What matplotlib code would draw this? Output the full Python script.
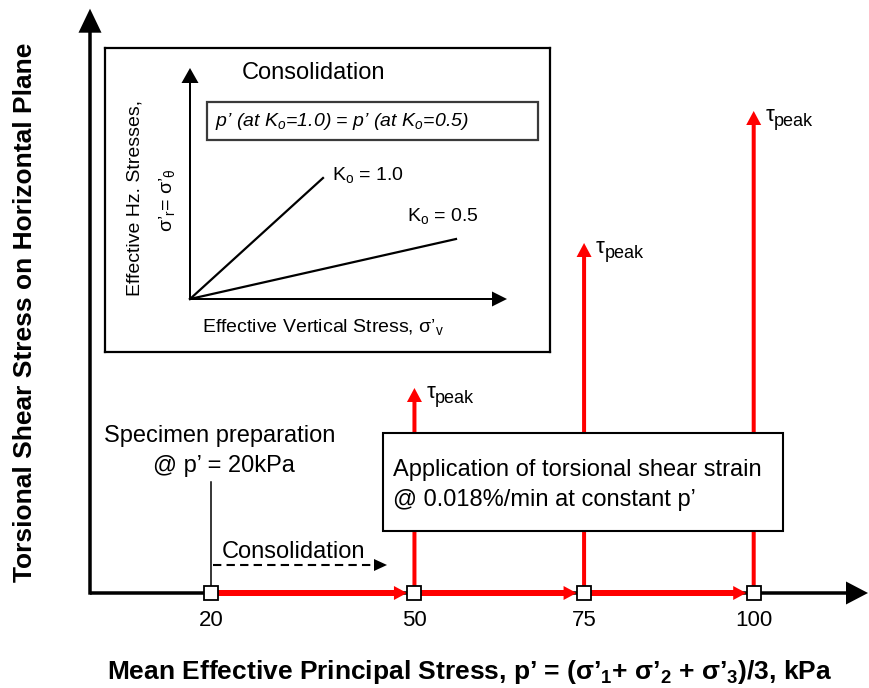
import matplotlib
matplotlib.use('Agg')
import matplotlib.pyplot as plt
from matplotlib.patches import Rectangle

plt.rcParams['font.family'] = ['Liberation Sans', 'DejaVu Sans']
plt.rcParams['mathtext.fontset'] = 'custom'
plt.rcParams['mathtext.rm'] = 'Liberation Sans'
plt.rcParams['mathtext.it'] = 'Liberation Sans:italic'
plt.rcParams['mathtext.bf'] = 'Liberation Sans:bold'
plt.rcParams['mathtext.default'] = 'regular'

# stress path data
stress_stops = [20, 50, 75, 100]          # p' at each stage (kPa)
stop_labels = ['20', '50', '75', '100']
shear_stops = [50, 75, 100]                # p' where torsional shear is applied
tau_peak = [2.05, 3.50, 4.82]              # relative peak shear stress
p_prep = 20                                # specimen preparation p'

# inset (consolidation) data
ko_labels = ['K$_o$ = 1.0', 'K$_o$ = 0.5']
ko_sigma_v = [1.33, 2.66]
ko_sigma_h = [1.21, 0.60]

W, H = 869, 688
fig = plt.figure(figsize=(W / 100, H / 100), dpi=100)


def fp(x, y):
    # reference pixel -> figure fraction
    return x / W, 1 - y / H


ax = fig.add_axes([0, 0, 1, 1])
kpa_px = 6.785       # pixels per kPa
x0_px = 75.2         # pixel column of p' = 0
ax.set_xlim(-x0_px / kpa_px, (W - x0_px) / kpa_px)
ax.set_ylim(-(H - 593) / 100, 593 / 100)
ax.axis('off')
px_x = 1 / kpa_px
px_y = 0.01


def kpa(xpix):
    return (xpix - x0_px) / kpa_px


# main axes with arrow heads
x_ax0 = kpa(90)
ax.arrow(x_ax0, 0, (868 - 90) * px_x, 0, width=3.5 * px_y, head_width=23 * px_y,
         head_length=22 * px_x, length_includes_head=True, fc='k', ec='none', zorder=2)
ax.arrow(x_ax0, -1.7 * px_y, 0, (594 - 8) * px_y, width=3.5 * px_x, head_width=23 * px_x,
         head_length=24 * px_y, length_includes_head=True, fc='k', ec='none', zorder=2)

# red consolidation path along the p' axis
for a, b in zip(stress_stops[:-1], stress_stops[1:]):
    ax.arrow(a, 0, b - a - 7.5 * px_x, 0, width=6 * px_y, head_width=14 * px_y,
             head_length=13 * px_x, length_includes_head=True, fc='red', ec='none', zorder=3)

# red shearing arrows
for s, t in zip(shear_stops, tau_peak):
    ax.arrow(s, 0, 0, t, width=4 * px_x, head_width=15 * px_x, head_length=14 * px_y,
             length_includes_head=True, fc='red', ec='none', zorder=3)
    tt = ax.annotate('τ', xy=(s, t), xytext=(8.5, -3.5), textcoords='offset points',
                     ha='left', va='center', fontsize=16)
    ax.annotate('peak', xy=(1.0, 0.25), xycoords=tt, ha='left', va='center', fontsize=13)

ax.plot(stress_stops, [0] * len(stress_stops), ls='none', marker='s', ms=10.5,
        mfc='white', mec='black', mew=1.3, zorder=5)
for s, lab in zip(stress_stops, stop_labels):
    ax.text(s, -28 * px_y, lab, ha='center', va='center', fontsize=16)

# specimen preparation note
ax.plot([p_prep, p_prep], [0, (593 - 482) * px_y], color='k', lw=1.1, zorder=4)
fig.text(*fp(220, 436), 'Specimen preparation', ha='center', va='center', fontsize=17)
fig.text(*fp(224, 466), '@ p’ = 20kPa', ha='center', va='center', fontsize=17)

# dashed consolidation arrow
y_c = (593 - 565) * px_y
x_end = kpa(387)
head_l = 13 * px_x
ax.plot([p_prep + 2 * px_x, x_end - head_l], [y_c, y_c], color='k', lw=1.5,
        ls=(0, (4, 2.5)), zorder=4)
ax.arrow(x_end - head_l, y_c, head_l, 0, width=0, head_width=12 * px_y, head_length=head_l,
         length_includes_head=True, fc='k', ec='none', zorder=4)
fig.text(*fp(222, 552), 'Consolidation', ha='left', va='center', fontsize=17)

# torsional shear box
ax.add_patch(Rectangle(fp(383, 531), 400 / W, 98 / H, transform=fig.transFigure,
                       fc='white', ec='black', lw=1.5, zorder=6))
ax.text(*fp(393, 470), 'Application of torsional shear strain', transform=fig.transFigure,
        ha='left', va='center', fontsize=17, zorder=7)
ax.text(*fp(393, 500), '@ 0.018%/min at constant p’', transform=fig.transFigure,
        ha='left', va='center', fontsize=17, zorder=7)

# axis titles
fig.text(*fp(25, 312), 'Torsional Shear Stress on Horizontal Plane', rotation=90,
         ha='center', va='center', fontsize=19, fontweight='bold')
fig.text(*fp(470, 672),
         'Mean Effective Principal Stress, p’ = (σ’$_\\mathbf{1}$+ σ’$_\\mathbf{2}$ + σ’$_\\mathbf{3}$)/3, kPa',
         ha='center', va='center', fontsize=19, fontweight='bold')

# inset: consolidation paths
ax_in = fig.add_axes([105 / W, 1 - 352 / H, 445 / W, 304 / H])
ax_in.set_xlim(-0.85, 3.60)
ax_in.set_ylim(-0.53, 2.51)
ax_in.set_xticks([])
ax_in.set_yticks([])
for sp in ax_in.spines.values():
    sp.set_linewidth(1.6)
ax_in.arrow(0, 0, 0, 2.31, width=0.02, head_width=0.17, head_length=0.15,
            length_includes_head=True, fc='k', ec='none')
ax_in.arrow(0, 0, 3.17, 0, width=0.02, head_width=0.15, head_length=0.15,
            length_includes_head=True, fc='k', ec='none')
for v, h in zip(ko_sigma_v, ko_sigma_h):
    ax_in.plot([0, v], [0, h], color='k', lw=1.6)
fig.text(*fp(332, 175), ko_labels[0], ha='left', va='center', fontsize=14)
fig.text(*fp(407, 216), ko_labels[1], ha='left', va='center', fontsize=14)

fig.text(*fp(242, 73), 'Consolidation', ha='left', va='center', fontsize=17)
fig.add_artist(Rectangle(fp(207, 140), 331 / W, 38 / H, transform=fig.transFigure,
                         fill=False, ec='#3a3a3a', lw=1.6))
fig.text(*fp(215, 121), 'p’ (at K$_\\mathit{o}$=1.0) = p’ (at K$_\\mathit{o}$=0.5)',
         style='italic', ha='left', va='center', fontsize=14)
fig.text(*fp(202, 327), 'Effective Vertical Stress, σ’$_v$', ha='left', va='center', fontsize=14)
fig.text(*fp(135, 198), 'Effective Hz. Stresses,', rotation=90, ha='center', va='center',
         fontsize=14)
fig.text(*fp(167, 200), 'σ’$_r$= σ’$_\\theta$', rotation=90, ha='center', va='center',
         fontsize=14)

fig.savefig('out.png', dpi=100)
